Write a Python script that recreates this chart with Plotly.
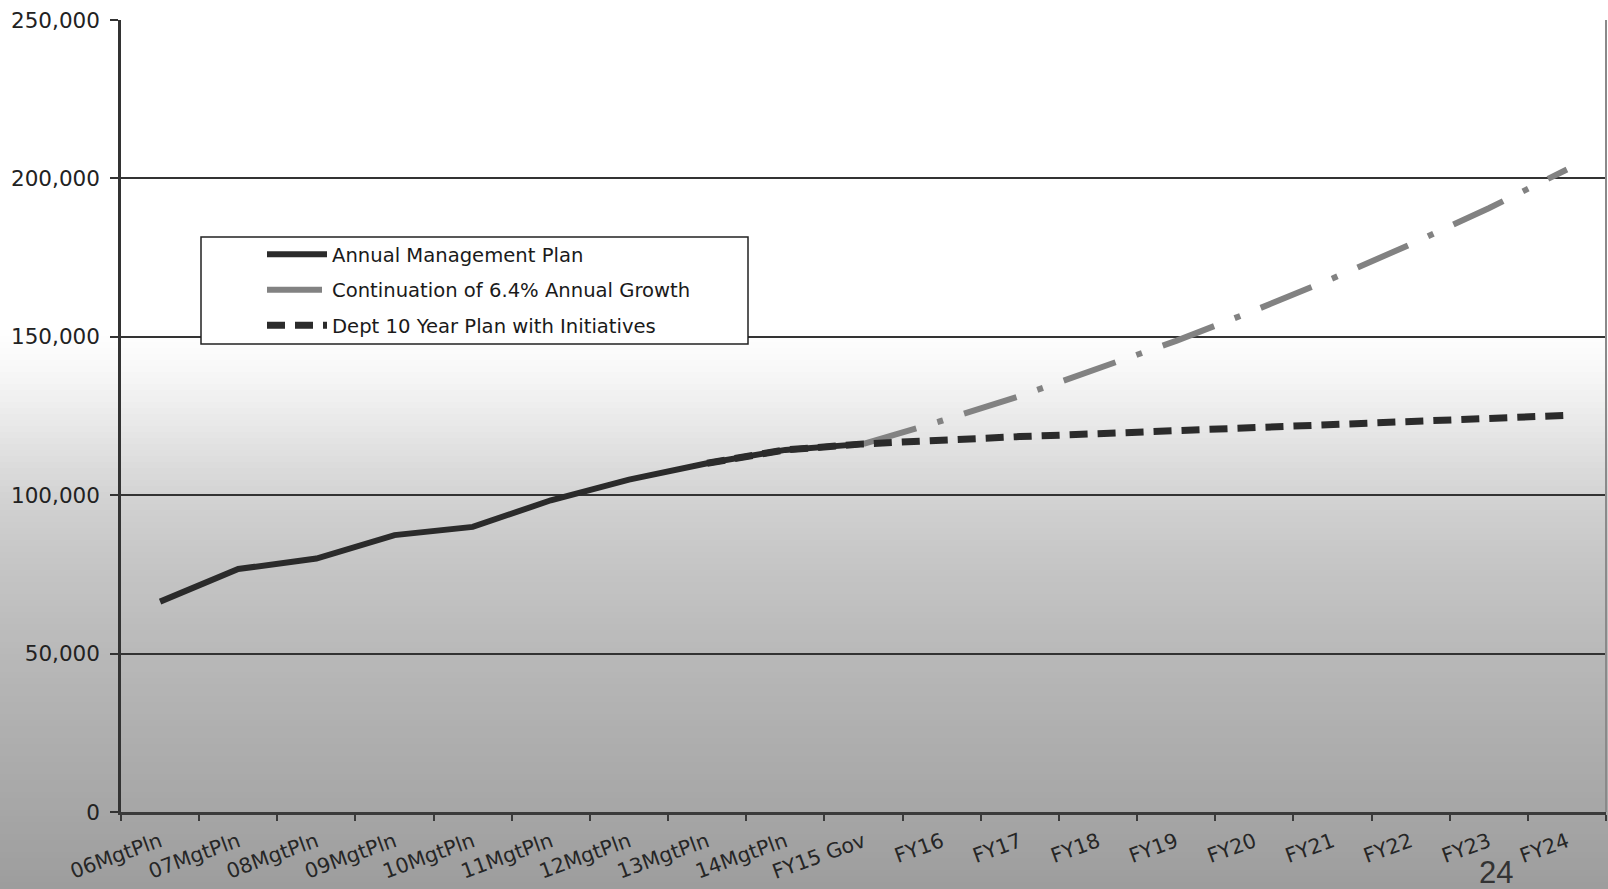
import plotly.graph_objects as go

# ---------------- data ----------------
categories = ["06MgtPln", "07MgtPln", "08MgtPln", "09MgtPln", "10MgtPln",
              "11MgtPln", "12MgtPln", "13MgtPln", "14MgtPln", "FY15 Gov",
              "FY16", "FY17", "FY18", "FY19", "FY20", "FY21", "FY22", "FY23", "FY24"]

mgmt_cats = categories[0:10]
mgmt_vals = [66400, 76700, 80000, 87400, 90000, 98400, 104900, 110100, 114300, 116200]

growth_cats = categories[9:]
growth_vals = [116200, 123500, 131300, 139800, 148700, 158300, 168400, 179200, 190600, 202800]

dept_cats = categories[7:]
dept_vals = [110100, 114300, 116200, 117500, 118500, 119400, 120400, 121500,
             122400, 123300, 124300, 125200]

y_ticks = [0, 50000, 100000, 150000, 200000, 250000]

names = ["Annual Management Plan", "Continuation of 6.4% Annual Growth",
         "Dept 10 Year Plan with Initiatives"]

# ---------------- layout geometry ----------------
W, H = 1608, 889
ML, MR, MT, MB = 121, 2, 20, 77
PW = W - ML - MR
PH = H - MT - MB


def py(p):  # pixel row -> paper y
    return (H - MB - p) / PH


def px(p):  # pixel column -> paper x
    return (p - ML) / PW


fig = go.Figure()

fig.add_trace(go.Scatter(
    x=growth_cats, y=growth_vals, mode="lines", name=names[1],
    line=dict(color="#828282", width=6, dash="55px,22px,6px,22px"),
    legendrank=2, legendgroup="b"))
fig.add_trace(go.Scatter(
    x=mgmt_cats, y=mgmt_vals, mode="lines", name=names[0],
    line=dict(color="#2b2b2b", width=6),
    legendrank=1, legendgroup="a"))
fig.add_trace(go.Scatter(
    x=dept_cats, y=dept_vals, mode="lines", name=names[2],
    line=dict(color="#2b2b2b", width=7, dash="18px,10px"),
    legendrank=3, legendgroup="c"))

# background gradient (page is white at top, fading to grey at the bottom)
stops = [(0, 255), (335, 254), (365, 249), (405, 238), (455, 223), (500, 210),
         (560, 198), (650, 185), (740, 174), (812, 166), (889, 157)]


def grey_at(p):
    for (p0, g0), (p1, g1) in zip(stops[:-1], stops[1:]):
        if p0 <= p <= p1:
            return g0 + (g1 - g0) * (p - p0) / (p1 - p0)
    return stops[-1][1]


shapes = []
step = 6
p = 330
while p < H:
    g = int(round(grey_at(p + step / 2)))
    shapes.append(dict(type="rect", xref="paper", yref="paper",
                       x0=-0.2, x1=1.05, y0=py(p + step + 1), y1=py(p),
                       fillcolor=f"rgb({g},{g},{g})", line=dict(width=0),
                       layer="below"))
    p += step

# right plot border
shapes.append(dict(type="line", xref="paper", yref="paper", x0=1, x1=1, y0=0, y1=1,
                   line=dict(color="#8a8a8a", width=2), layer="above"))
# legend box
shapes.append(dict(type="rect", xref="paper", yref="paper",
                   x0=px(201), x1=px(748), y0=py(344), y1=py(237),
                   fillcolor="white", line=dict(color="#222222", width=1.5),
                   layer="above"))

fig.update_layout(
    width=W, height=H,
    margin=dict(l=ML, r=MR, t=MT, b=MB, pad=0),
    paper_bgcolor="white",
    plot_bgcolor="rgba(0,0,0,0)",
    font=dict(family="DejaVu Sans", color="#1e1e1e"),
    showlegend=True,
    legend=dict(x=px(262), y=py(235), xanchor="left", yanchor="top",
                bgcolor="rgba(0,0,0,0)", borderwidth=0,
                font=dict(family="DejaVu Sans", size=19.6, color="#1a1a1a"),
                traceorder="grouped", tracegroupgap=7, itemwidth=60),
    shapes=shapes,
    annotations=[dict(text="24", xref="paper", yref="paper", x=px(1496), y=py(872),
                      xanchor="center", yanchor="middle",
                      showarrow=False, font=dict(family="Liberation Sans", size=31,
                                                 color="#333333"))],
    xaxis=dict(type="category", categoryorder="array", categoryarray=categories,
               range=[-0.5, 18.5], showgrid=False, showline=True,
               linecolor="#3a3a3a", linewidth=3, ticks="outside",
               tickson="boundaries", ticklen=6, tickcolor="#3a3a3a", tickwidth=1.5,
               ticklabelstandoff=7,
               tickangle=-20, tickfont=dict(family="DejaVu Sans", size=20.5,
                                            color="#262626"),
               zeroline=False),
    yaxis=dict(range=[0, 250000], tickvals=y_ticks, tickformat=",d",
               showgrid=True, gridcolor="#333333", gridwidth=1.5,
               showline=True, linecolor="#333333", linewidth=2.5,
               ticks="outside", ticklen=8, tickcolor="#333333", tickwidth=1.5,
               ticklabelstandoff=6,
               tickfont=dict(family="DejaVu Sans", size=21.5, color="#222222"),
               zeroline=False),
)

fig.write_html("out.html")
